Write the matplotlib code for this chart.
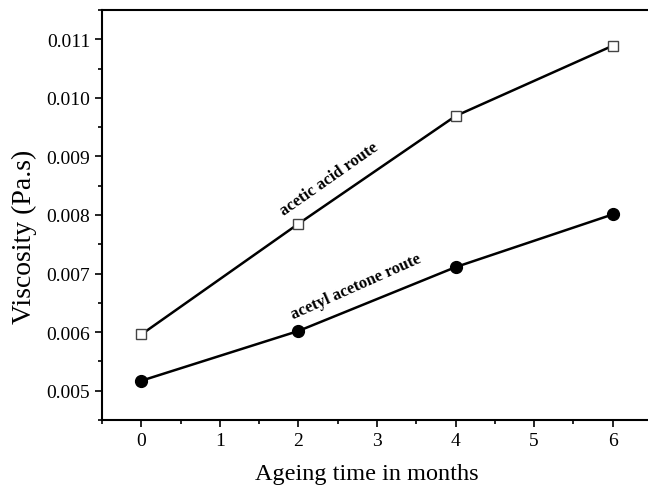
import matplotlib.pyplot as plt
from matplotlib.ticker import MultipleLocator

# ageing time (months) and viscosity (Pa.s)
months = [0, 2, 4, 6]
acetic_acid = [0.00596, 0.00785, 0.00969, 0.01089]
acetyl_acetone = [0.00517, 0.00602, 0.00711, 0.00801]

plt.rcParams["font.family"] = ["Liberation Serif", "DejaVu Serif"]

fig = plt.figure(figsize=(6.48, 4.89), dpi=100)
ax = fig.add_axes([102 / 648, 1 - 421 / 489, 550 / 648, 410 / 489])

ax.plot(months, acetic_acid, color="black", lw=1.8, marker="s", ms=7.5,
        mfc="white", mec="#444444", mew=1.0)
ax.plot(months, acetyl_acetone, color="black", lw=1.8, marker="o", ms=8.5,
        mfc="black", mec="black")

ax.text(2.39, 0.00862, "acetic acid route", rotation=35, ha="center", va="center",
        fontsize=12, fontweight="bold")
ax.text(2.73, 0.00679, "acetyl acetone route", rotation=24, ha="center", va="center",
        fontsize=12, fontweight="bold")

ax.set_xlim(-0.5, 6.5)
ax.set_ylim(0.0045, 0.0115)
ax.xaxis.set_major_locator(MultipleLocator(1))
ax.xaxis.set_minor_locator(MultipleLocator(0.5))
ax.yaxis.set_major_locator(MultipleLocator(0.001))
ax.yaxis.set_minor_locator(MultipleLocator(0.0005))
ax.yaxis.set_major_formatter(plt.FuncFormatter(lambda v, p: f"{v:.3f}"))

ax.tick_params(which="major", direction="out", length=5, width=1.2, labelsize=14)
ax.tick_params(which="minor", direction="out", length=3, width=1.2)
ax.tick_params(top=False, right=False, which="both")
for s in ax.spines.values():
    s.set_linewidth(1.5)

ax.set_xlabel("Ageing time in months", fontsize=17.5)
ax.set_ylabel("Viscosity (Pa.s)", fontsize=20)
ax.xaxis.set_label_coords(0.482, -0.106)
ax.yaxis.set_label_coords(-0.118, 0.449)

fig.savefig("out.png", dpi=100)
